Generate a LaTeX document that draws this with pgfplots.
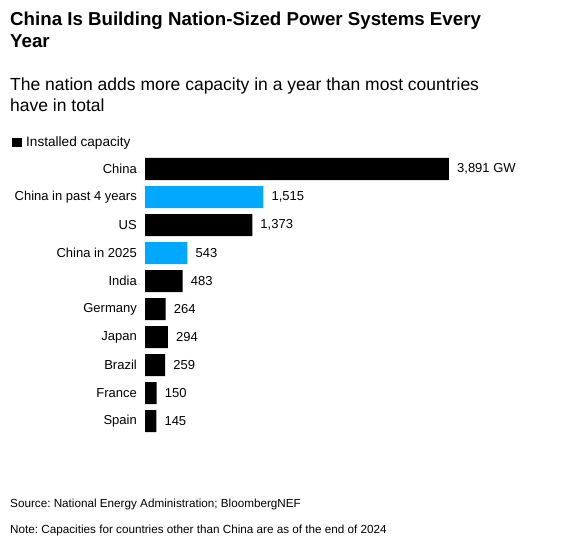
\documentclass[border=0pt]{standalone}
\usepackage{pgfplots}
\pgfplotsset{compat=1.18}
\usepackage{fontspec}
\setmainfont{Liberation Sans}
\definecolor{bblue}{RGB}{0,169,255}
\begin{document}
\frenchspacing
\begin{tikzpicture}
\path[use as bounding box] (0pt,0pt) rectangle (561pt,544pt);
\node[anchor=base west,inner sep=0pt,font=\fontsize{18.7}{22}\selectfont\bfseries] at (10pt,518pt) {China Is Building Nation-Sized Power Systems Every};
\node[anchor=base west,inner sep=0pt,font=\fontsize{18.7}{22}\selectfont\bfseries] at (10pt,496pt) {Year};
\node[anchor=base west,inner sep=0pt,font=\fontsize{17.5}{21}\selectfont] at (10pt,453pt) {The nation adds more capacity in a year than most countries};
\node[anchor=base west,inner sep=0pt,font=\fontsize{17.5}{21}\selectfont] at (10pt,432pt) {have in total};
\fill[black] (12pt,397pt) rectangle (22pt,406pt);
\node[anchor=base west,inner sep=0pt,font=\fontsize{13.6}{16}\selectfont] at (26pt,397pt) {Installed capacity};
\node[anchor=base west,inner sep=0pt,font=\fontsize{11.7}{14}\selectfont] at (10pt,37pt) {Source: National Energy Administration; BloombergNEF};
\node[anchor=base west,inner sep=0pt,font=\fontsize{11.7}{14}\selectfont] at (10pt,11pt) {Note: Capacities for countries other than China are as of the end of 2024};
\begin{axis}[
  at={(145pt,109pt)}, anchor=south west, scale only axis,
  width=390.6pt, height=280pt,
  xmin=0, xmax=5000, ymin=-0.5, ymax=9.5,
  xbar, bar width=22pt,
  axis line style={draw=none},
  xtick=\empty, ytick={0,...,9},
  yticklabels={Spain, France, Brazil, Japan, Germany, India, China in 2025, US, China in past 4 years, China},
  major tick length=0pt,
  yticklabel style={font=\fontsize{13}{15}\selectfont, anchor=east, inner sep=0pt, xshift=-8pt},
  nodes near coords, point meta=explicit symbolic,
  nodes near coords style={font=\fontsize{13}{15}\selectfont, anchor=west, inner sep=0pt, xshift=8pt},
  clip=false]
\addplot[fill=black, draw=none, bar shift=0pt] coordinates {
(3891,9) [{3,891 GW}]
(1373,7) [{1,373}]
(483,5) [{483}]
(264,4) [{264}]
(294,3) [{294}]
(259,2) [{259}]
(150,1) [{150}]
(145,0) [{145}]
};
\addplot[fill=bblue, draw=none, bar shift=0pt] coordinates {
(1515,8) [{1,515}]
(543,6) [{543}]
};
\end{axis}
\end{tikzpicture}
\end{document}
